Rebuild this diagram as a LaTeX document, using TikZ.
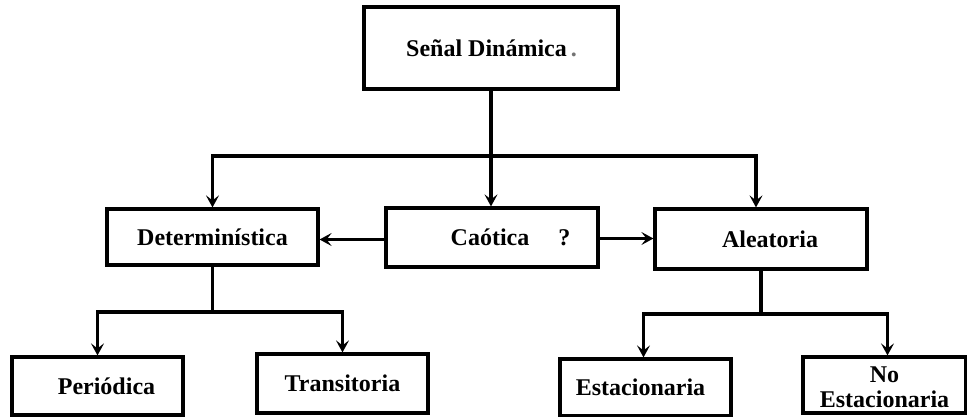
\documentclass[tikz,border=0pt]{standalone}
\usepackage{fontspec}
\setmainfont{Liberation Serif}
\usetikzlibrary{arrows.meta}
\begin{document}
\begin{tikzpicture}[x=1pt,y=-1pt,
  lbl/.style={font=\bfseries\fontsize{24}{25}\selectfont,align=center,inner sep=0pt},
  box/.style={lbl,draw,line width=3.2pt,rectangle},
  link/.style={line width=3.2pt},
  arr/.style={line width=3.2pt,-{Stealth[length=12pt,width=13pt,inset=5pt]}}]
\useasboundingbox (0,0) rectangle (967,417);

% boxes
\node[box,minimum width=254pt,minimum height=82pt] (top) at (491,48)
  {Señal Dinámica\rlap{\hspace{4pt}\textcolor{black!55}{.}}\hspace*{9pt}};
\node[box,minimum width=211pt,minimum height=56pt] (det) at (212.5,237) {Determinística};
\node[box,minimum width=212pt,minimum height=59pt] (cao) at (492,237.5)
  {Caótica\rlap{\hspace{29pt}?}\hspace*{4pt}};
\node[box,minimum width=212pt,minimum height=60pt] (ale) at (761,239) {\hspace*{18pt}Aleatoria};
\node[box,minimum width=171pt,minimum height=58pt] (per) at (97.5,386) {\hspace*{18pt}Periódica};
\node[box,minimum width=171pt,minimum height=59pt] (tra) at (342.5,383.5) {Transitoria};
\node[box,minimum width=171pt,minimum height=57pt] (est) at (645.5,387.5) {Estacionaria\hspace*{10pt}};
\node[box,minimum width=163pt,minimum height=56pt] (noe) at (884.5,385) {};
\node[lbl] (noeText) at ([yshift=-2.5pt]noe.center) {No\\Estacionaria};

% branch points
\coordinate (hb) at (491,156);
\coordinate (db) at (212.5,312);
\coordinate (ab) at (761,314);

% first level
\draw[link] (top.south) -- (hb);
\draw[arr] (hb) -- (hb |- cao.north);
\draw[arr] (hb) -| (det.north);
\draw[arr] (hb) -| ([xshift=-5pt]ale.north);

% from Caótica to both sides
\draw[arr] ([yshift=-2pt]cao.west) -- ([yshift=-2pt]cao.west -| det.east);
\draw[arr] ([yshift=-1pt]cao.east) -- ([yshift=-1pt]cao.east -| ale.west);

% Determinística branches
\draw[link] (det.south) -- (db);
\draw[arr] (db) -| (per.north);
\draw[arr] (db) -| (tra.north);

% Aleatoria branches
\draw[link] (ale.south) -- (ab);
\draw[arr] (ab) -| ([xshift=-2pt]est.north);
\draw[arr] (ab) -| ([xshift=3pt]noe.north);
\end{tikzpicture}
\end{document}
